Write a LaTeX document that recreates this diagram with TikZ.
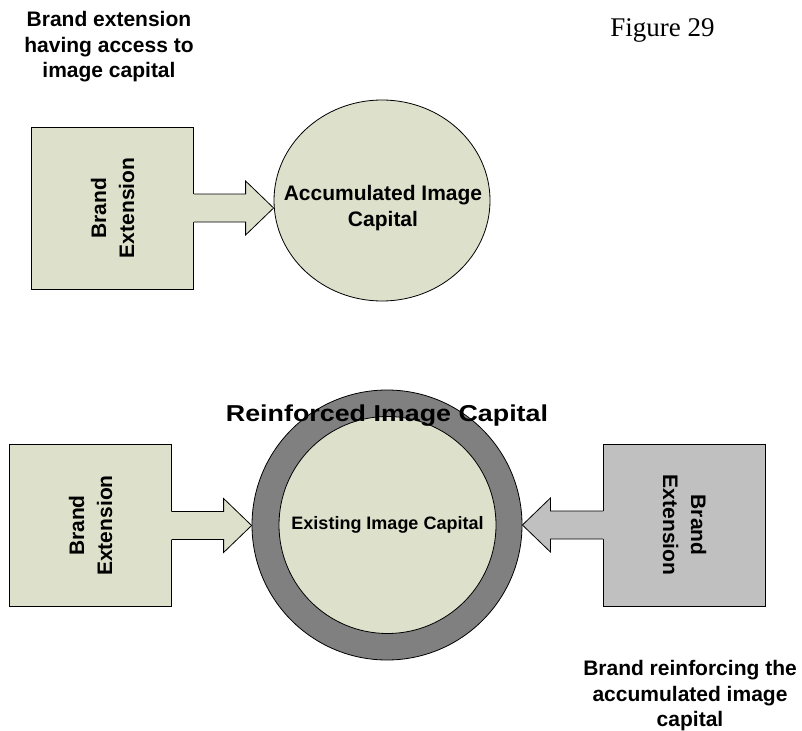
\documentclass[tikz,border=0pt]{standalone}
\usepackage{fontspec}
\setmainfont{Liberation Serif}
\newfontfamily\arialfont{Liberation Sans}
\usepackage{xcolor}
\usetikzlibrary{positioning,calc,shapes.geometric}

\definecolor{olivefill}{RGB}{221,225,204}
\definecolor{greyfill}{RGB}{192,192,192}
\definecolor{ringfill}{RGB}{128,128,128}

\tikzset{
  lbl/.style={font=\arialfont\bfseries\fontsize{21}{25.5}\selectfont, align=center, inner sep=0pt},
  extbox/.style={draw, line width=0.8pt, minimum width=162pt, minimum height=162pt, inner sep=0pt,
    lbl, font=\arialfont\bfseries\fontsize{21}{28}\selectfont},
  outline/.style={draw, line width=0.8pt},
}

% block arrow from the box side (#1) to the circle side (#2), fill #3
\newcommand{\blockarrow}[3]{%
  \coordinate (ba-s) at (#1);
  \coordinate (ba-t) at (#2 |- ba-s);
  \coordinate (ba-b) at ($(ba-s)!-1pt!(ba-t)$);
  \coordinate (ba-h) at ($(ba-t)!28pt!(ba-s)$);
  \fill[#3] ($(ba-b)!14pt!90:(ba-t)$) -- ($(ba-h)!14pt!90:(ba-t)$) -- ($(ba-h)!27pt!90:(ba-t)$)
    -- (ba-t) -- ($(ba-h)!27pt!-90:(ba-t)$) -- ($(ba-h)!14pt!-90:(ba-t)$)
    -- ($(ba-b)!14pt!-90:(ba-t)$) -- cycle;
  \draw[line width=0.8pt, line join=miter] ($(ba-s)!14pt!90:(ba-t)$) -- ($(ba-h)!14pt!90:(ba-t)$) -- ($(ba-h)!27pt!90:(ba-t)$)
    -- (ba-t) -- ($(ba-h)!27pt!-90:(ba-t)$) -- ($(ba-h)!14pt!-90:(ba-t)$)
    -- ($(ba-s)!14pt!-90:(ba-t)$);
}

\begin{document}
\begin{tikzpicture}[x=1pt,y=-1pt]
\useasboundingbox (0,0) rectangle (802,730);

% captions
\node[lbl] (capTop) at (109,47) {Brand extension\\having access to\\image capital};
\node[font=\fontsize{27}{32}\selectfont, anchor=base, inner sep=0pt] (figno) at (662.5,37) {Figure 29};
\node[lbl] (capBottom) at (690,696) {Brand reinforcing the\\accumulated image\\capital};

% upper diagram
\node[extbox, fill=olivefill, rotate=90] (extA) at (112.5,208) {Brand\\Extension};
\node[ellipse, outline, fill=olivefill, minimum width=216pt, minimum height=201pt, inner sep=0pt] (accum) at (382,200.5) {};
\node[lbl] (accumText) at (383,208) {Accumulated Image\\Capital};
\blockarrow{extA.south}{accum.west}{olivefill}

% lower diagram
\node[circle, outline, fill=ringfill, minimum size=270pt] (ring) at (387,525) {};
\node[circle, outline, fill=olivefill, minimum size=217pt, lbl, font=\arialfont\bfseries\fontsize{18}{21}\selectfont] (exist) at (387.5,525) {Existing Image Capital};
\node[lbl, font=\arialfont\bfseries\fontsize{23}{27}\selectfont, anchor=base] (reinf) at (387,421) {\scalebox{1.167}[1]{Reinforced Image Capital}};

\node[extbox, fill=olivefill, rotate=90] (extB) at (90.5,525.5) {Brand\\Extension};
\node[extbox, fill=greyfill, rotate=-90] (extC) at (684.5,525) {Brand\\Extension};
\blockarrow{extB.south}{ring.west}{olivefill}
\blockarrow{extC.south}{ring.east}{greyfill}
\end{tikzpicture}
\end{document}
